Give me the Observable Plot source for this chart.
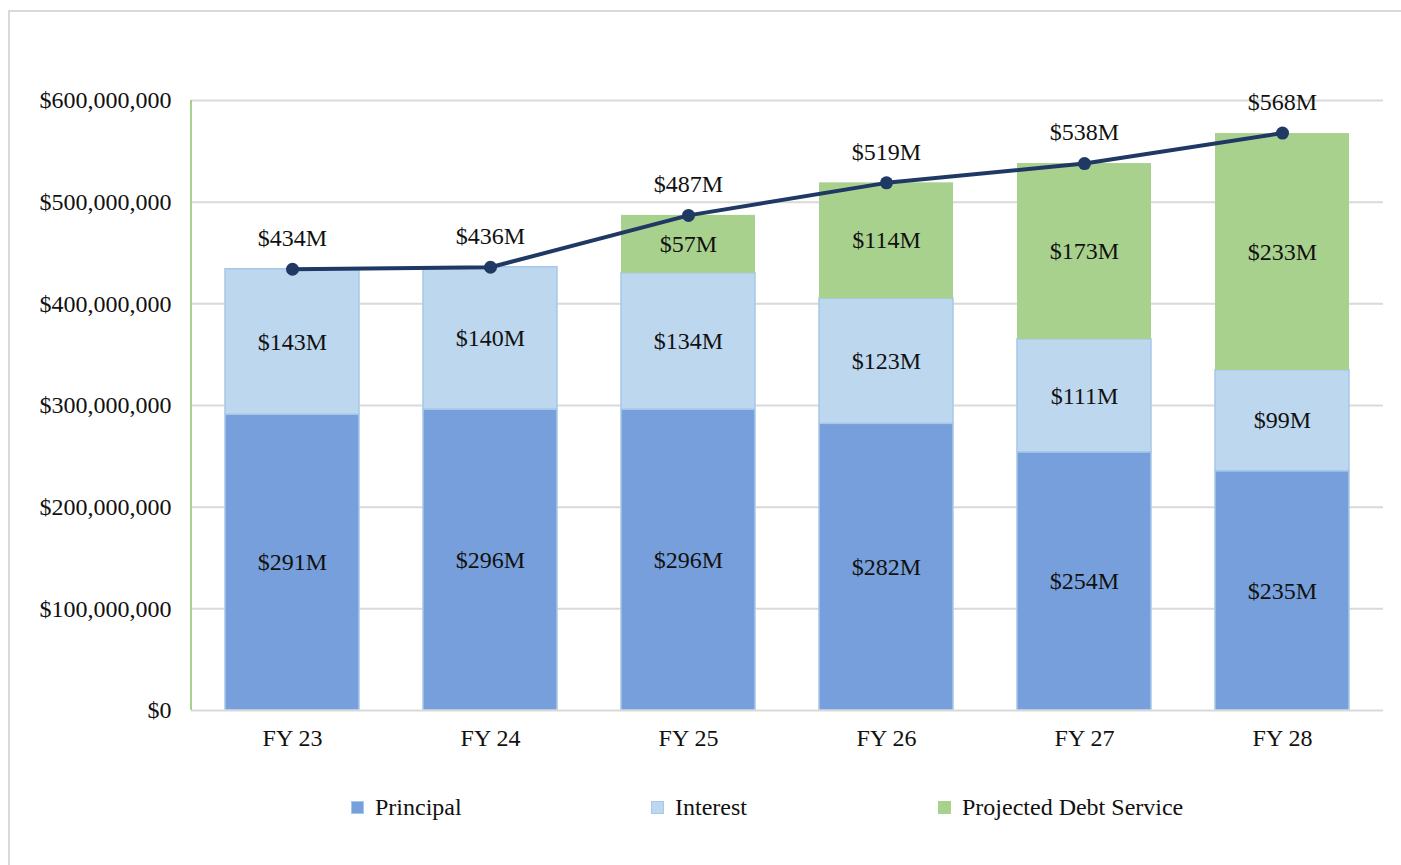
<!DOCTYPE html>
<html><head><meta charset="utf-8">
<script src="https://cdn.jsdelivr.net/npm/d3@7"></script>
<script src="https://cdn.jsdelivr.net/npm/@observablehq/plot@0.6"></script>
<style>
body{margin:0;background:#fff;font-family:"Liberation Serif","Times New Roman",serif;}
#wrap{position:relative;width:1401px;height:865px;overflow:hidden;}
#border{position:absolute;left:8px;top:10px;width:1400px;height:880px;border:2px solid #d9d9d9;box-sizing:border-box;}
#chart{position:absolute;left:0;top:0;}
.leg{position:absolute;top:793px;font-size:24px;line-height:28px;color:#111;display:flex;align-items:center;}
.sw{width:13px;height:13px;margin-right:11px;box-sizing:border-box;}
svg text{font-family:"Liberation Serif","Times New Roman",serif;}
</style></head>
<body><div id="wrap"><div id="border"></div><div id="chart"></div>
<div class="leg" style="left:351px"><span class="sw" style="background:#779FDB;border:1px solid #A6C8EA"></span>Principal</div>
<div class="leg" style="left:651px"><span class="sw" style="background:#BDD7EE;border:1px solid #A6C8EA"></span>Interest</div>
<div class="leg" style="left:938px"><span class="sw" style="background:#A9D18E"></span>Projected Debt Service</div>
</div>
<script>
const years = ["FY 23","FY 24","FY 25","FY 26","FY 27","FY 28"];
const principal = [291.0, 296.0, 296.0, 282.0, 254.0, 235.4];
const interest  = [143.0, 140.0, 134.0, 123.0, 111.0, 99.1];
const projected = [0, 0, 57.0, 114.0, 173.0, 233.0];
const totals    = [434, 436, 487, 519, 538, 568];
const seriesNames = ["Principal","Interest","Projected Debt Service"];
const colors = ["#779FDB","#BDD7EE","#A9D18E"];
const yTicks = [0,100,200,300,400,500,600];

const rows = [];
years.forEach((y,i)=>{
  [principal,interest,projected].forEach((arr,k)=>{
    rows.push({year:y, series:seriesNames[k], value:arr[i], order:k});
  });
});
const tot = years.map((y,i)=>({year:y, total:totals[i]}));
const font = "Liberation Serif";

const chart = Plot.plot({
  width:1401, height:770,
  marginLeft:191, marginRight:18, marginTop:100, marginBottom:60,
  style:{fontFamily:font, fontSize:"24px", color:"#111", background:"transparent"},
  x:{domain:years, paddingInner:0.325, paddingOuter:0.1625, label:null, tickSize:0, tickPadding:18},
  y:{domain:[0,600], ticks:yTicks, label:null, tickSize:0, tickPadding:20,
     tickFormat:d=>"$"+d3.format(",")(d*1e6)},
  color:{domain:seriesNames, range:colors},
  marks:[
    Plot.ruleY(yTicks.filter(d=>d>0), {stroke:"#d9d9d9", strokeWidth:2, strokeOpacity:1}),
    Plot.barY(rows, Plot.stackY({x:"year", y:"value", z:"series", order:"order",
      fill:"series", stroke:d=>d.series==="Projected Debt Service"?"none":"#A6C8EA", strokeWidth:1.5})),
    Plot.ruleY([0], {stroke:"#d9d9d9", strokeWidth:2}),
    Plot.text(rows.filter(d=>d.value>0), Plot.stackY({x:"year", y:"value", z:"series", order:"order",
      text:d=>"$"+Math.round(d.value)+"M", fill:"#111", fontSize:24, fontFamily:font})),
    Plot.line(tot, {x:"year", y:"total", stroke:"#1F3864", strokeWidth:4}),
    Plot.dot(tot, {x:"year", y:"total", r:6.5, fill:"#1F3864"}),
    Plot.text(tot, {x:"year", y:"total", text:d=>"$"+d.total+"M", dy:-31, fill:"#111", fontSize:24, fontFamily:font})
  ]
});
chart.querySelectorAll("g[aria-label='x-axis tick label'] text, g[aria-label='y-axis tick label'] text").forEach(t=>t.setAttribute("font-size","24"));
// left axis line in light green
const xr = chart.scale("x").range, yr = chart.scale("y").range;
d3.select(chart).append("line")
  .attr("x1", xr[0]).attr("x2", xr[0]).attr("y1", yr[0]).attr("y2", yr[1])
  .attr("stroke","#A9D18E").attr("stroke-width",2);
document.getElementById("chart").appendChild(chart);
</script></body></html>
